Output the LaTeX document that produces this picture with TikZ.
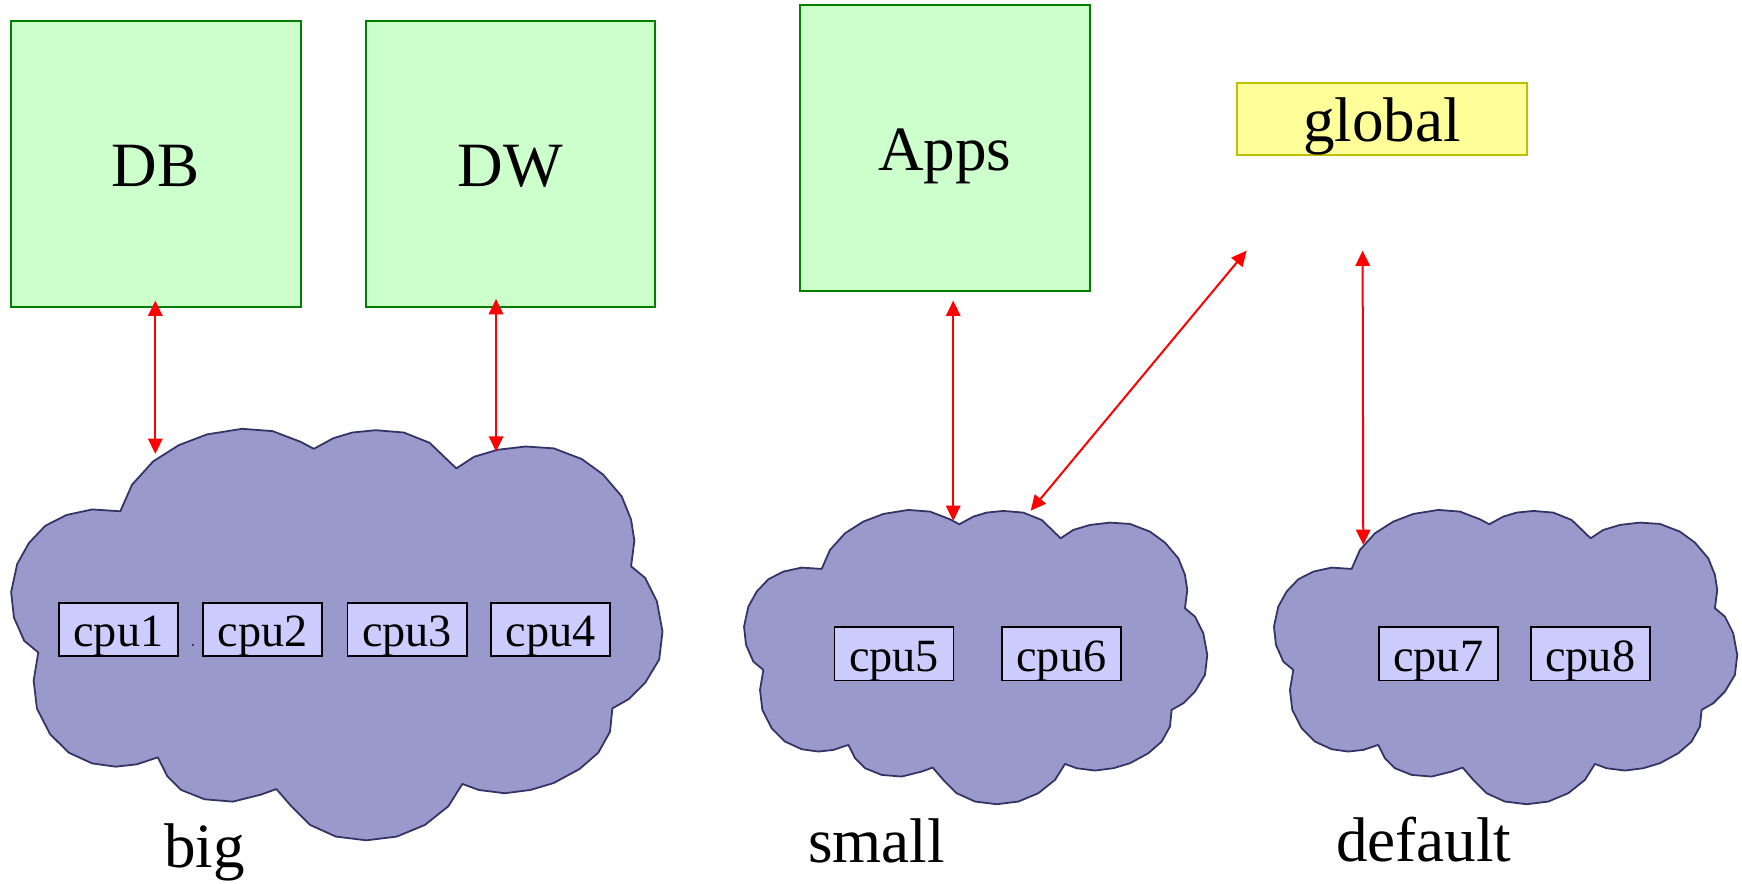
\documentclass[tikz,border=0pt]{standalone}
\usepackage{fontspec}
\setmainfont{Liberation Serif}
\usetikzlibrary{arrows.meta}

\definecolor{boxgreen}{HTML}{CCFFCC}
\definecolor{edgegreen}{HTML}{008000}
\definecolor{boxyellow}{HTML}{FFFF99}
\definecolor{edgeyellow}{HTML}{BFBF00}
\definecolor{cloudfill}{HTML}{9999CC}
\definecolor{cloudedge}{HTML}{333366}
\definecolor{cpufill}{HTML}{CCCCFF}

% outline of one cloud, in its own local units
\newcommand{\cloudoutline}{%
  (275,237) -- (300,180) -- (345,130) -- (400,95) -- (460,72) -- (535,60) -- (600,65) -- (660,88) -- (688,103)
  -- (730,80) -- (770,68) -- (820,63) -- (880,68) -- (935,90) -- (992,145)
  -- (1030,120) -- (1080,105) -- (1140,98) -- (1200,102) -- (1260,125) -- (1305,158) -- (1345,205) -- (1365,255) -- (1372,300) -- (1365,355)
  -- (1395,380) -- (1420,430) -- (1432,495) -- (1425,555) -- (1395,605) -- (1360,640) -- (1325,660)
  -- (1320,710) -- (1295,755) -- (1255,790) -- (1200,820) -- (1150,835) -- (1095,842) -- (1040,835) -- (1005,822)
  -- (975,870) -- (925,910) -- (865,935) -- (800,943) -- (735,935) -- (680,910) -- (640,870) -- (608,833)
  -- (575,845) -- (515,860) -- (455,855) -- (405,835) -- (375,805) -- (355,765)
  -- (310,780) -- (265,785) -- (215,778) -- (165,755) -- (125,715) -- (97,660) -- (90,600) -- (100,540)
  -- (70,515) -- (48,465) -- (42,410) -- (55,350) -- (80,305) -- (115,268) -- (160,245) -- (215,233) -- cycle}

\tikzset{
  poolbox/.style={draw=edgegreen, fill=boxgreen, line width=0.9pt, inner sep=0pt, outer sep=0pt,
    minimum width=130.5pt, minimum height=128.6pt, font=\fontsize{28.4}{34}\selectfont,
    text height=20pt, text depth=0pt},
  globalbox/.style={draw=edgeyellow, fill=boxyellow, line width=0.9pt, inner sep=0pt, outer sep=0pt,
    minimum width=130.2pt, minimum height=32.6pt, font=\fontsize{28.4}{34}\selectfont,
    text height=20pt, text depth=0pt},
  cpubox/.style={draw=black, fill=cpufill, line width=0.75pt, inner sep=0pt, outer sep=0pt,
    minimum width=53.6pt, minimum height=24pt, font=\fontsize{20.8}{25}\selectfont,
    text height=15.8pt, text depth=0pt},
  cloudshape/.style={draw=cloudedge, fill=cloudfill, line width=0.8pt, line join=round},
  poolname/.style={anchor=base, inner sep=0pt, font=\fontsize{28.4}{34}\selectfont},
  biarrow/.style={draw=red, line width=0.9pt,
    {Triangle[length=6.9pt,width=6.45pt]}-{Triangle[length=6.9pt,width=6.45pt]}}
}

\begin{document}
\begin{tikzpicture}[x=0.5pt, y=-0.5pt]
  \useasboundingbox (0,0) rectangle (1568,795);

  % processor pools
  \begin{scope}[shift={(-7.7,360.8)}, xscale=0.4218, yscale=0.4195]
    \path[cloudshape] \cloudoutline;
  \end{scope}
  \begin{scope}[shift={(657.1,441.0)}, scale=0.3]
    \path[cloudshape] \cloudoutline;
  \end{scope}
  \begin{scope}[shift={(1134.1,441.0)}, scale=0.3]
    \path[cloudshape] \cloudoutline;
  \end{scope}

  % processors
  \node[cpubox] (cpu1) at (106.5,566.5) {cpu1};
  \node[cpubox] (cpu2) at (236.5,566.5) {cpu2};
  \node[cpubox] (cpu3) at (366.5,566.5) {cpu3};
  \node[cpubox] (cpu4) at (495.5,566.5) {cpu4};
  \node[cpubox] (cpu5) at (804.7,588.5) {cpu5};
  \node[cpubox] (cpu6) at (955.3,588.5) {cpu6};
  \node[cpubox] (cpu7) at (1294.6,588.5) {cpu7};
  \node[cpubox] (cpu8) at (1431.4,588.5) {cpu8};
  \fill[cloudedge] (173.5,580.5) circle (1.2);

  % pool names
  \node[poolname] (bigname) at (184,780.7) {big};
  \node[poolname] (smallname) at (789,776.5) {small};
  \node[poolname] (defaultname) at (1281.5,775) {default};

  % workloads and the global zone
  \node[poolbox] (db) at (140,147.5) {DB};
  \node[poolbox] (dw) at (459.5,147.6) {DW};
  \node[poolbox] (apps) at (850.3,133.3) {Apps};
  \node[globalbox] (global) at (1243.9,107) {global};

  % binding ends
  \coordinate (dbEnd) at (139.8,270.6);
  \coordinate (bigEndA) at (139.8,408.6);
  \coordinate (dwEnd) at (446.5,269.1);
  \coordinate (bigEndB) at (446.5,406.5);
  \coordinate (appsEnd) at (858,270.6);
  \coordinate (smallEndA) at (858,469);
  \coordinate (globalEndA) at (1122.1,225.6);
  \coordinate (smallEndB) at (927.7,459.7);
  \coordinate (globalEndB) at (1226.5,225.6);
  \coordinate (defaultEnd) at (1227.1,490.5);

  \draw[biarrow] (dbEnd) -- (bigEndA);
  \draw[biarrow] (dwEnd) -- (bigEndB);
  \draw[biarrow] (appsEnd) -- (smallEndA);
  \draw[biarrow] (globalEndA) -- (smallEndB);
  \draw[biarrow] (globalEndB) -- (defaultEnd);
\end{tikzpicture}
\end{document}
